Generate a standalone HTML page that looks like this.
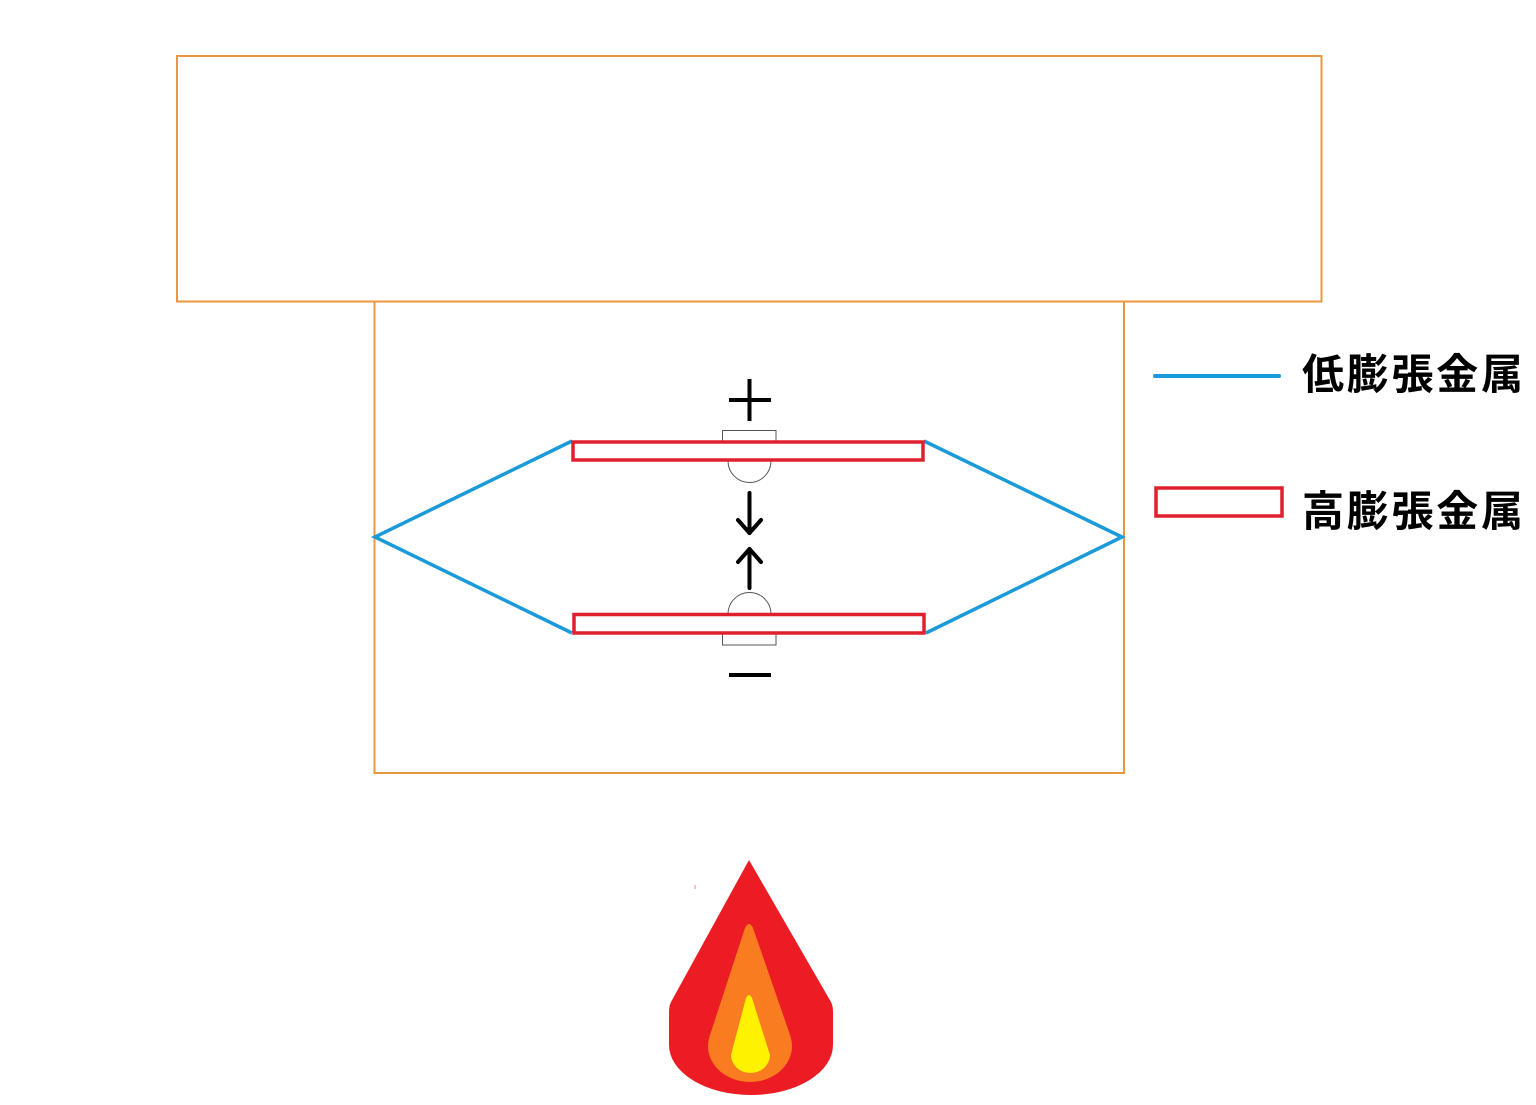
<!DOCTYPE html>
<html>
<head>
<meta charset="utf-8">
<style>
html,body{margin:0;padding:0;background:#fff;}
svg{display:block;}
</style>
</head>
<body>
<svg width="1536" height="1105" viewBox="0 0 1536 1105" xmlns="http://www.w3.org/2000/svg">
  <rect x="0" y="0" width="1536" height="1105" fill="#ffffff"/>
  <!-- boxes -->
  <rect x="177" y="56" width="1144.5" height="245.5" fill="none" stroke="#e8993f" stroke-width="2"/>
  <polyline points="374.5,301.5 374.5,773 1124,773 1124,301.5" fill="none" stroke="#e8993f" stroke-width="2"/>

  <!-- blue low-expansion metal -->
  <polyline points="572,441 375,537 572,633" fill="none" stroke="#1b9ad9" stroke-width="3.5" stroke-linejoin="miter"/>
  <polyline points="924,441 1122,537 926,633" fill="none" stroke="#1b9ad9" stroke-width="3.5" stroke-linejoin="miter"/>

  <!-- terminals -->
  <rect x="722.5" y="430.5" width="53.5" height="12" fill="#fff" stroke="#555" stroke-width="1"/>
  <path d="M728,461 A21.5,21.5 0 0 0 771,461" fill="#fff" stroke="#555" stroke-width="1"/>
  <rect x="722.5" y="633" width="53.5" height="12" fill="#fff" stroke="#555" stroke-width="1"/>
  <path d="M728,614 A21.5,21.5 0 0 1 771,614" fill="#fff" stroke="#555" stroke-width="1"/>

  <!-- red high-expansion metal -->
  <rect x="573" y="442" width="350" height="18" fill="#fff" stroke="#e0202e" stroke-width="3.5"/>
  <rect x="574" y="614.5" width="350" height="18.5" fill="#fff" stroke="#e0202e" stroke-width="3.5"/>

  <!-- plus / minus -->
  <g stroke="#000" stroke-width="4" fill="none">
    <line x1="729" y1="400" x2="771" y2="400"/>
    <line x1="749.5" y1="379" x2="749.5" y2="421"/>
    <line x1="729" y1="675" x2="771" y2="675"/>
  </g>
  <!-- arrows -->
  <g stroke="#000" stroke-width="4" fill="none" stroke-linecap="round" stroke-linejoin="round">
    <line x1="749.5" y1="493" x2="749.5" y2="533"/>
    <polyline points="738,520 749.5,533 761,520"/>
    <line x1="749.5" y1="549" x2="749.5" y2="588"/>
    <polyline points="738,562 749.5,549 761,562"/>
  </g>

  <!-- legend -->
  <line x1="1155" y1="376" x2="1279" y2="376" stroke="#1b9ad9" stroke-width="4" stroke-linecap="round"/>
  <rect x="1156" y="488" width="126" height="28" fill="#fff" stroke="#e0202e" stroke-width="3.5"/>
  <text x="1302" y="389" font-family="'Liberation Sans','Noto Sans CJK JP',sans-serif" font-weight="bold" font-size="42" fill="#000" textLength="221" lengthAdjust="spacing">低膨張金属</text>
  <text x="1302" y="526" font-family="'Liberation Sans','Noto Sans CJK JP',sans-serif" font-weight="bold" font-size="42" fill="#000" textLength="221" lengthAdjust="spacing">高膨張金属</text>

  <!-- flame -->
  <path d="M749,860 L671,1002 Q669,1006 669,1012 L669,1045 A82,50 0 0 0 833,1045 L833,1012 Q833,1006 831,1002 Z" fill="#ec1c24"/>
  <path d="M745,928 Q749,920 753,928 L789,1032 Q792,1040 792,1046 A42,36 0 0 1 708,1046 Q708,1040 711,1032 Z" fill="#f97c20"/>
  <path d="M746,998 Q749,992 752,998 L770,1055 A19.5,18 0 0 1 731,1055 Z" fill="#fff200"/>
  <rect x="694.5" y="885" width="1" height="4" fill="#e88"/>
</svg>
</body>
</html>
